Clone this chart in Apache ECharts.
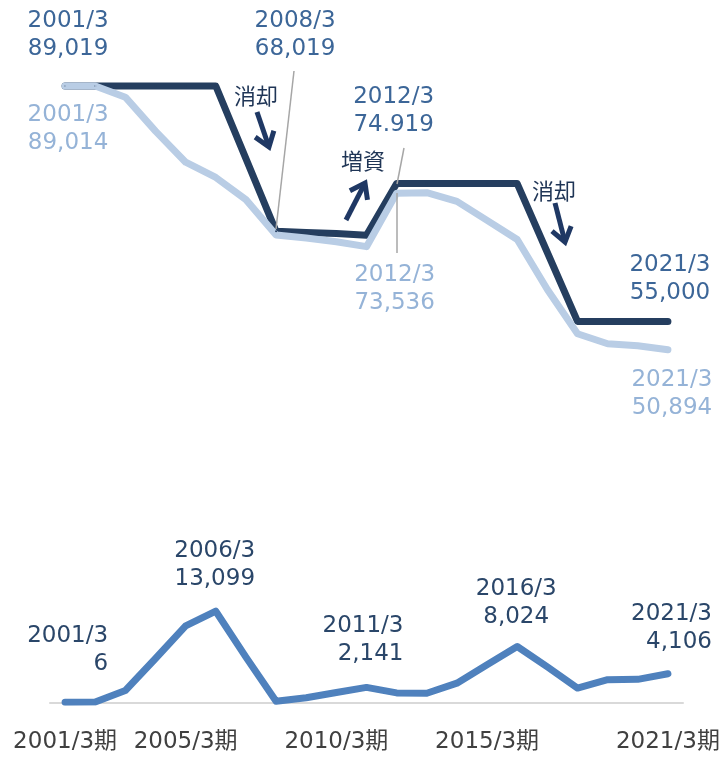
<!DOCTYPE html>
<html>
<head>
<meta charset="utf-8">
<script src="https://cdn.jsdelivr.net/npm/echarts@6/dist/echarts.min.js"></script>
<style>
  html, body { margin: 0; padding: 0; background: #fff; }
  #chart { width: 724px; height: 757px; }
</style>
</head>
<body>
<div id="chart"></div>
<script>
// categories (fiscal year ends)
const periods = [
  '2001/3期', '2002/3期', '2003/3期', '2004/3期', '2005/3期', '2006/3期', '2007/3期',
  '2008/3期', '2009/3期', '2010/3期', '2011/3期', '2012/3期', '2013/3期', '2014/3期',
  '2015/3期', '2016/3期', '2017/3期', '2018/3期', '2019/3期', '2020/3期', '2021/3期'
]
const shownTicks = [0, 4, 9, 14, 20]

// issued shares (dark) and shares outstanding (light), thousands
const issued = [
  89019, 89019, 89019, 89019, 89019, 89019, 78519,
  68019, 67850, 67700, 67450, 74919, 74919, 74919,
  74919, 74919, 64960, 55000, 55000, 55000, 55000
]
const outstanding = [
  89014, 89014, 87400, 82500, 78000, 75800, 72600,
  67500, 67050, 66520, 65800, 73536, 73600, 72350,
  69600, 66840, 59600, 53220, 51770, 51480, 50894
]
// treasury shares (bottom panel)
const treasury = [
  6, 50, 1700, 6300, 11000, 13099, 6500,
  150, 650, 1400, 2141, 1350, 1300, 2750,
  5400, 8024, 5100, 2050, 3250, 3300, 4106
]

// callouts: [index, text]
const issuedNotes = [[0, '2001/3\n89,019'], [7, '2008/3\n68,019'], [11, '2012/3\n74.919'], [20, '2021/3\n55,000']]
const outstandingNotes = [[0, '2001/3\n89,014'], [11, '2012/3\n73,536'], [20, '2021/3\n50,894']]
const treasuryNotes = [[0, '2001/3\n6'], [5, '2006/3\n13,099'], [10, '2011/3\n2,141'], [15, '2016/3\n8,024'], [20, '2021/3\n4,106']]

// label placement (offset from point, alignment)
const place = {
  issued: { 0: [3, -51], 7: [19, -196], 11: [-3, -73], 20: [2, -42] },
  outstanding: { 0: [3, 43], 11: [-2, 96], 20: [4, 44] },
  treasury: { 0: [43, -52, 'right'], 5: [-1, -46], 10: [37, -47, 'right'], 15: [-1, -43], 20: [44, -46, 'right'] }
}

const FONT = "'DejaVu Sans', 'Noto Sans CJK JP', sans-serif"

function withLabels(values, notes, pos, color) {
  const map = {}
  notes.forEach(n => { map[n[0]] = n[1] })
  return values.map((v, i) => {
    if (map[i] === undefined) return v
    const p = pos[i]
    return {
      value: v,
      label: {
        show: true,
        position: 'inside',
        offset: [p[0], p[1]],
        align: p[2] || 'center',
        verticalAlign: 'middle',
        formatter: map[i],
        color: color,
        fontSize: 23,
        lineHeight: 28,
        fontFamily: FONT
      }
    }
  })
}

function arrow(x1, y1, x2, y2) {
  const ang = Math.atan2(y2 - y1, x2 - x1)
  const len = 17, spread = 0.62
  const a1 = [x2 - len * Math.cos(ang - spread), y2 - len * Math.sin(ang - spread)]
  const a2 = [x2 - len * Math.cos(ang + spread), y2 - len * Math.sin(ang + spread)]
  const st = { stroke: '#1F3864', lineWidth: 5, fill: null, lineJoin: 'miter', lineCap: 'butt' }
  return [
    { type: 'line', shape: { x1: x1, y1: y1, x2: x2 - 2 * Math.cos(ang), y2: y2 - 2 * Math.sin(ang) }, style: st, z: 100 },
    { type: 'polyline', shape: { points: [a1, [x2, y2], a2] }, style: st, z: 100 }
  ]
}

function note(text, x, y) {
  return {
    type: 'text', x: x, y: y, z: 100,
    style: { text: text, fill: '#1F3556', font: "22px 'Noto Sans CJK JP', sans-serif", align: 'center', verticalAlign: 'middle' }
  }
}

function leader(x1, y1, x2, y2) {
  return { type: 'line', shape: { x1, y1, x2, y2 }, style: { stroke: '#A6A6A6', lineWidth: 1.5 }, z: 90 }
}

const chart = echarts.init(document.getElementById('chart'), null, { renderer: 'canvas' })

const option = {
  animation: false,
  grid: [
    { left: 50, right: 41, top: 44.6, height: 346 },
    { left: 50, right: 41, top: 598, height: 104.3 }
  ],
  xAxis: [
    { gridIndex: 0, type: 'category', data: periods, show: false, boundaryGap: true },
    {
      gridIndex: 1, type: 'category', data: periods, boundaryGap: true,
      axisLine: { show: true, lineStyle: { color: '#D9D9D9', width: 2 } },
      axisTick: { show: false },
      axisLabel: {
        interval: (i) => shownTicks.includes(i),
        color: '#404040', fontSize: 23, lineHeight: 28, margin: 26, fontFamily: FONT
      }
    }
  ],
  yAxis: [
    { gridIndex: 0, type: 'value', min: 45000, max: 95000, show: false, splitLine: { show: false } },
    { gridIndex: 1, type: 'value', min: 0, max: 15000, show: false, splitLine: { show: false } }
  ],
  series: [
    {
      name: '発行済株式数', type: 'line', xAxisIndex: 0, yAxisIndex: 0,
      data: withLabels(issued, issuedNotes, place.issued, '#3C6698'),
      symbol: 'circle', symbolSize: 2, showAllSymbol: true,
      itemStyle: { color: '#253E5F' },
      lineStyle: { color: '#253E5F', width: 7, cap: 'round', join: 'round' }
    },
    {
      name: '自己株式除く', type: 'line', xAxisIndex: 0, yAxisIndex: 0,
      data: withLabels(outstanding, outstandingNotes, place.outstanding, '#95B3D7'),
      symbol: 'circle', symbolSize: 2, showAllSymbol: true,
      itemStyle: { color: '#B9CDE5' },
      lineStyle: { color: '#B9CDE5', width: 7, cap: 'round', join: 'round' }
    },
    {
      name: '自己株式', type: 'line', xAxisIndex: 1, yAxisIndex: 1,
      data: withLabels(treasury, treasuryNotes, place.treasury, '#2A4669'),
      symbol: 'circle', symbolSize: 2, showAllSymbol: true,
      itemStyle: { color: '#4F81BD' },
      lineStyle: { color: '#4F81BD', width: 7, cap: 'round', join: 'round' }
    }
  ],
  graphic: [
    leader(294, 71, 276, 229),
    leader(404, 148, 397, 184),
    leader(397, 193, 397, 253),
    note('消却', 256, 96),
    note('増資', 363, 161),
    note('消却', 554, 191),
    ...arrow(257, 112, 269, 147),
    ...arrow(346, 220, 365, 183),
    ...arrow(555, 203, 565, 242)
  ]
}

chart.setOption(option)
</script>
</body>
</html>
